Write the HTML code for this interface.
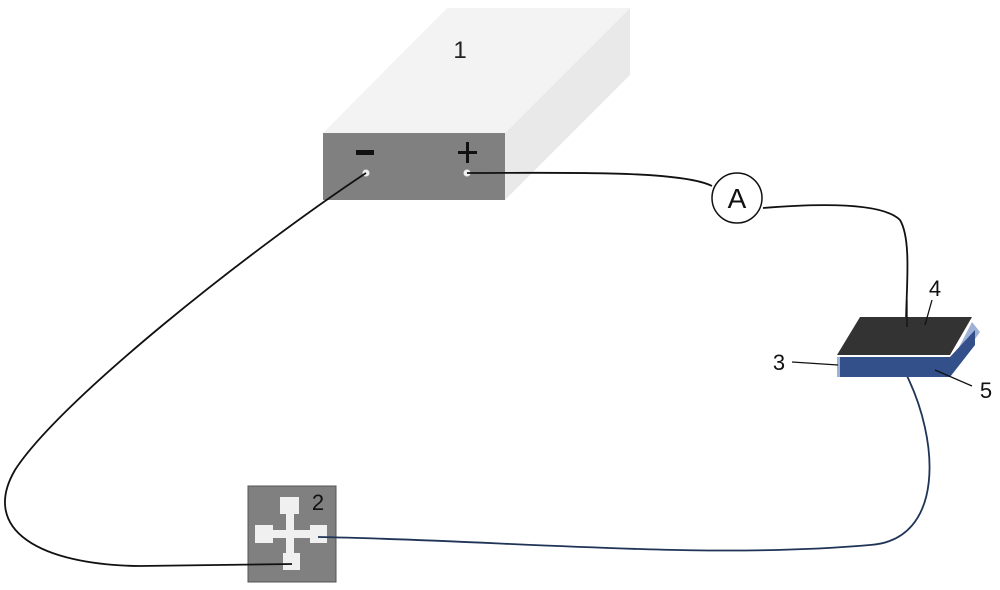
<!DOCTYPE html>
<html><head><style>body{margin:0;background:#fff}svg{display:block}</style></head><body>
<svg width="1000" height="590" viewBox="0 0 1000 590" xmlns="http://www.w3.org/2000/svg" font-family="Liberation Sans, DejaVu Sans, sans-serif">
<polygon points="323,133 447,8 630,8 505,133" fill="#f3f3f3"/>
<polygon points="505,133 630,8 630,75 505,200" fill="#e9e9e9"/>
<rect x="323" y="133" width="182" height="67" fill="#808080"/>
<text x="460" y="58" font-size="24" fill="#222" text-anchor="middle">1</text>
<rect x="356" y="150" width="18" height="5" fill="#111"/>
<rect x="466" y="142" width="3" height="21" fill="#111"/>
<rect x="458" y="151" width="19" height="3" fill="#111"/>
<circle cx="366" cy="173" r="3.5" fill="#eee"/>
<circle cx="467" cy="173" r="3.5" fill="#eee"/>
<rect x="248" y="486" width="88" height="96" fill="#808080" stroke="#555" stroke-width="1"/>
<text x="318" y="510" font-size="22" fill="#111" text-anchor="middle">2</text>
<g fill="#f0f0f0">
<rect x="280" y="497" width="19" height="17"/>
<rect x="255" y="525" width="18" height="18"/>
<rect x="310" y="525" width="17" height="18"/>
<rect x="283" y="553" width="17" height="17"/>
<rect x="286" y="512" width="8" height="43"/>
<rect x="271" y="530" width="41" height="8"/>
</g>
<g fill="none" stroke="#111" stroke-width="1.8">
<path d="M467,173 C560,173 680,170 712,186"/>
<path d="M763,208 C800,205 880,200 900,220 C912,240 906,290 906,325"/>
<path d="M366,173 C250,250 60,400 15,470 C-20,530 40,565 140,566 L292,564"/>
</g>
<path d="M318,537 C500,540 700,560 870,545 C945,540 940,440 905,372" fill="none" stroke="#1f3457" stroke-width="1.8"/>
<circle cx="737" cy="198" r="25" fill="#fff" stroke="#111" stroke-width="1.5"/>
<text x="737" y="208" font-size="28" fill="#111" text-anchor="middle">A</text>
<polygon points="837,357 845,357 845,377 837,377" fill="#9fb1d6"/>
<polygon points="955,355 972,322 980,332 960,360" fill="#9fb1d6"/>
<polygon points="840,377 950,377 975,345 975,330 950,357 840,357" fill="#34508a"/>
<polygon points="837,355 860,317 972,317 950,355" fill="#333"/>
<line x1="837" y1="356" x2="950" y2="356" stroke="#fff" stroke-width="1.5"/>
<g stroke="#111" stroke-width="1.3">
<line x1="907" y1="327" x2="907" y2="300"/>
<line x1="925" y1="325" x2="932" y2="300"/>
<line x1="792" y1="362" x2="838" y2="365"/>
<line x1="935" y1="370" x2="972" y2="386"/>
</g>
<text x="935" y="296" font-size="22" fill="#111" text-anchor="middle">4</text>
<text x="779" y="370" font-size="22" fill="#111" text-anchor="middle">3</text>
<text x="986" y="398" font-size="22" fill="#111" text-anchor="middle">5</text>
</svg>
</body></html>
